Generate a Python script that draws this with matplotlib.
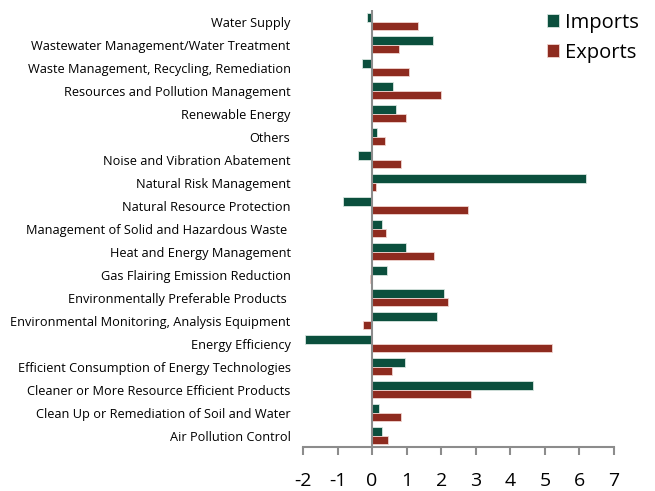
import numpy as np
import matplotlib.pyplot as plt

plt.rcParams['font.family'] = ['Open Sans', 'DejaVu Sans']

categories = [
    "Water Supply",
    "Wastewater Management/Water Treatment",
    "Waste Management, Recycling, Remediation",
    "Resources and Pollution Management",
    "Renewable Energy",
    "Others",
    "Noise and Vibration Abatement",
    "Natural Risk Management",
    "Natural Resource Protection",
    "Management of Solid and Hazardous Waste ",
    "Heat and Energy Management",
    "Gas Flairing Emission Reduction",
    "Environmentally Preferable Products ",
    "Environmental Monitoring, Analysis Equipment",
    "Energy Efficiency",
    "Efficient Consumption of Energy Technologies",
    "Cleaner or More Resource Efficient Products",
    "Clean Up or Remediation of Soil and Water",
    "Air Pollution Control",
]
imports = [-0.15, 1.75, -0.28, 0.6, 0.68, 0.15, -0.42, 6.2, -0.85, 0.3,
           0.98, 0.42, 2.07, 1.87, -1.95, 0.95, 4.66, 0.2, 0.28]
exports = [1.32, 0.77, 1.06, 2.0, 0.97, 0.36, 0.83, 0.1, 2.77, 0.4,
           1.78, -0.06, 2.2, -0.25, 5.2, 0.59, 2.87, 0.83, 0.46]
xticks = list(range(-2, 8))

green = "#0b4f3d"
red = "#8e2b1f"

fig = plt.figure(figsize=(6.55, 4.91), dpi=100)
ax = fig.add_axes([303 / 655, 1 - 447 / 491, 311 / 655, 437 / 491])

y = np.arange(len(categories))
h = 0.36
ax.barh(y - h / 2, imports, height=h, color=green, edgecolor="#d8e6e0",
        linewidth=0.6, label="Imports")
ax.barh(y + h / 2, exports, height=h, color=red, edgecolor="#f0d4cf",
        linewidth=0.6, label="Exports")

ax.set_xlim(-2, 7)
ax.set_ylim(len(categories) - 0.5, -0.5)
ax.set_xticks(xticks)
ax.set_xticklabels([str(t) for t in xticks], fontsize=14)
ax.set_yticks(y)
ax.set_yticklabels(categories, fontsize=9.2)
ax.tick_params(axis="y", length=0, pad=9)
ax.tick_params(axis="x", length=6, width=1.5, color="#8c8c8c", direction="out", pad=12)

for s in ["top", "right", "left"]:
    ax.spines[s].set_visible(False)
ax.spines["bottom"].set_color("#8c8c8c")
ax.spines["bottom"].set_linewidth(1.5)
ax.axvline(0, color="#8c8c8c", linewidth=1.5, zorder=3)

ax.legend(loc="upper left", bbox_to_anchor=(0.725, 1.035), frameon=False,
          fontsize=14.5, handlelength=0.6, handleheight=0.6, handletextpad=0.3,
          labelspacing=0.5)

fig.savefig("out.png", dpi=100)
